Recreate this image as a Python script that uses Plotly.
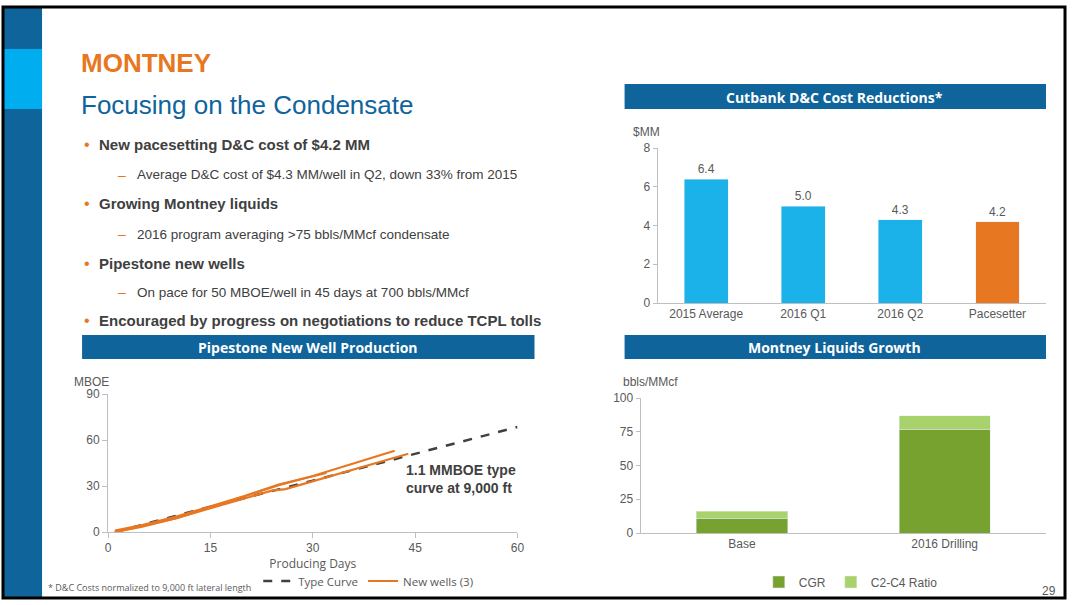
import plotly.graph_objects as go

OX, OY, WV, HV = 3, 6, 1061, 591
def px(x): return (x - OX) / WV
def py(y): return 1 - (y - OY) / HV

cost_cats = ["2015 Average", "2016 Q1", "2016 Q2", "Pacesetter"]
cost_vals = [6.4, 5.0, 4.3, 4.2]
cost_colors = ["#1AB2E8", "#1AB2E8", "#1AB2E8", "#E87722"]

tc_days = [1, 15, 30, 45, 60]
tc_mboe = [0, 16.5, 33.5, 51, 68.5]
wA_days = [1, 5, 10, 15, 20, 25, 30, 35, 42]
wA_mboe = [0, 3.5, 9, 16, 23, 30.5, 36.5, 43.5, 53]
wB_days = [1, 5, 10, 15, 20, 24, 26, 30, 35, 44]
wB_mboe = [0, 4, 9, 15.5, 22, 27, 28, 33, 39.5, 51]
wC_days = [1, 5, 10, 15, 20, 25, 28, 32]
wC_mboe = [1, 4.5, 10, 16.5, 23.5, 31, 34, 38.5]

liq_cats = ["Base", "2016 Drilling"]
cgr = [11, 77]
c2c4 = [5, 10]

ORANGE = "#E87722"
NAVY = "#0E649B"
GRAY = "#595959"
fig = go.Figure()

fig.add_bar(x=cost_cats, y=cost_vals, marker_color=cost_colors, width=0.45,
            text=[f"{v:.1f}" for v in cost_vals], textposition="outside",
            textfont=dict(size=12, color=GRAY), cliponaxis=False,
            xaxis="x", yaxis="y", showlegend=False)

fig.add_scatter(x=tc_days, y=tc_mboe, mode="lines", name="Type Curve",
                line=dict(color="#404040", dash="dash", width=2.5),
                xaxis="x2", yaxis="y2", legend="legend")
for i, (d, m) in enumerate([(wA_days, wA_mboe), (wB_days, wB_mboe), (wC_days, wC_mboe)]):
    fig.add_scatter(x=d, y=m, mode="lines", name="New wells (3)",
                    line=dict(color=ORANGE, width=2.2), showlegend=(i == 0),
                    legendgroup="w", xaxis="x2", yaxis="y2", legend="legend")

fig.add_bar(x=liq_cats, y=cgr, name="CGR", marker_color="#77A22F", width=0.45,
            xaxis="x3", yaxis="y3", legend="legend2")
fig.add_bar(x=liq_cats, y=c2c4, name="C2-C4 Ratio", marker_color="#A8D26B", width=0.45,
            xaxis="x3", yaxis="y3", legend="legend2")

axfont = dict(family="Liberation Sans, Arial", size=12, color=GRAY)
fig.update_layout(
    autosize=True, margin=dict(l=0, r=0, t=0, b=0),
    paper_bgcolor="white", plot_bgcolor="white", barmode="stack",
    font=dict(family="Liberation Sans, Arial", color=GRAY),
    xaxis=dict(domain=[px(657), px(1045)], anchor="y", showline=True, linecolor="#BFBFBF",
               ticks="", tickfont=axfont, showgrid=False),
    yaxis=dict(domain=[py(302), py(147)], anchor="x", range=[0, 8], dtick=2, showgrid=False,
               showline=True, linecolor="#BFBFBF", ticks="outside", tickcolor="#BFBFBF", ticklen=4,
               tickfont=axfont, zeroline=False),
    xaxis2=dict(domain=[px(108), px(517)], anchor="y2", range=[0, 60], dtick=15, showgrid=False,
                showline=True, linecolor="#BFBFBF", ticks="outside", tickcolor="#BFBFBF", ticklen=5,
                tickfont=axfont, zeroline=False,
                title=dict(text="Producing Days", font=dict(family="Open Sans", size=12, color=GRAY), standoff=2)),
    yaxis2=dict(domain=[py(531), py(393)], anchor="x2", range=[0, 90], dtick=30, showgrid=False,
                showline=True, linecolor="#BFBFBF", ticks="outside", tickcolor="#BFBFBF", ticklen=5,
                tickfont=axfont, zeroline=False),
    xaxis3=dict(domain=[px(640), px(1045)], anchor="y3", showline=True, linecolor="#BFBFBF",
                ticks="", tickfont=axfont, showgrid=False),
    yaxis3=dict(domain=[py(532), py(397)], anchor="x3", range=[0, 100], dtick=25, showgrid=False,
                showline=True, linecolor="#BFBFBF", ticks="outside", tickcolor="#BFBFBF", ticklen=4,
                tickfont=axfont, zeroline=False),
    legend=dict(orientation="h", x=px(258), xanchor="left", y=py(580), yanchor="middle",
                font=dict(family="Open Sans", size=11.5, color=GRAY), bgcolor="rgba(0,0,0,0)",
                tracegroupgap=0),
    legend2=dict(orientation="h", x=px(850), xanchor="center", y=py(581), yanchor="middle",
                 traceorder="normal", itemwidth=30,
                 font=dict(family="Liberation Sans, Arial", size=12, color=GRAY), bgcolor="rgba(0,0,0,0)"),
)

shapes = [
    dict(type="rect", x0=0, x1=px(42), y0=0, y1=1, fillcolor=NAVY, line_width=0),
    dict(type="rect", x0=0, x1=px(42), y0=py(108), y1=py(48), fillcolor="#00AEEF", line_width=0),
    dict(type="rect", x0=px(624), x1=px(1045), y0=py(108), y1=py(83), fillcolor=NAVY, line_width=0),
    dict(type="rect", x0=px(82), x1=px(534), y0=py(358), y1=py(334), fillcolor=NAVY, line_width=0),
    dict(type="rect", x0=px(624), x1=px(1045), y0=py(358), y1=py(334), fillcolor=NAVY, line_width=0),
    dict(type="rect", x0=0, x1=1, y0=0, y1=1, line=dict(color="black", width=3)),
]
for s in shapes:
    s.update(xref="paper", yref="paper", layer="below" if s.get("fillcolor") else "above")
fig.update_layout(shapes=shapes)

ann = []
def A(x, y, text, size, color, bold=False, anchor="left", family="Liberation Sans, Arial"):
    ann.append(dict(x=px(x), y=py(y), xref="paper", yref="paper", text=f"<b>{text}</b>" if bold else text,
                    showarrow=False, xanchor=anchor, yanchor="middle",
                    font=dict(size=size, color=color, family=family)))

A(79, 62, "MONTNEY", 26, ORANGE, bold=True)
A(79, 104, "Focusing on the Condensate", 26, NAVY)
bullets = [(143, "New pacesetting D&C cost of $4.2 MM", 174, "Average D&C cost of $4.3 MM/well in Q2, down 33% from 2015"),
           (203, "Growing Montney liquids", 233, "2016 program averaging >75 bbls/MMcf condensate"),
           (262, "Pipestone new wells", 291, "On pace for 50 MBOE/well in 45 days at 700 bbls/MMcf"),
           (319, "Encouraged by progress on negotiations to reduce TCPL tolls", None, None)]
for y1, t1, y2, t2 in bullets:
    A(82, y1, "•", 16, ORANGE)
    A(97, y1, t1, 15, "#404040", bold=True)
    if t2:
        A(116, y2, "–", 14, ORANGE)
        A(135, y2, t2, 13.5, "#404040")
A(834, 96, "Cutbank D&C Cost Reductions*", 14, "white", bold=True, anchor="center", family="Open Sans")
A(308, 346, "Pipestone New Well Production", 14, "white", bold=True, anchor="center", family="Open Sans")
A(834, 346, "Montney Liquids Growth", 14, "white", bold=True, anchor="center", family="Open Sans")
A(630, 131, "$MM", 12, GRAY)
A(72, 381, "MBOE", 12, GRAY)
A(620, 381, "bbls/MMcf", 12, GRAY)
ann.append(dict(x=px(404), y=py(478), xref="paper", yref="paper", showarrow=False, xanchor="left",
                yanchor="middle", align="left", text="<b>1.1 MMBOE type<br>curve at 9,000 ft</b>",
                font=dict(size=14, color="#404040", family="Liberation Sans, Arial")))
ann.append(dict(x=px(46), y=0.004, xref="paper", yref="paper", showarrow=False, xanchor="left",
                yanchor="bottom", text="* D&C Costs normalized to 9,000 ft lateral length",
                font=dict(size=9, color=GRAY, family="Open Sans")))
A(1057, 590, "29", 12, GRAY, anchor="right")
fig.update_layout(annotations=ann)

post = ("document.documentElement.style.margin='0';document.body.style.margin='0';"
        "document.body.style.overflow='hidden';")
fig.write_html("out.html", post_script=post, default_width="100vw", default_height="100vh",
               config={"displayModeBar": False, "responsive": True})
